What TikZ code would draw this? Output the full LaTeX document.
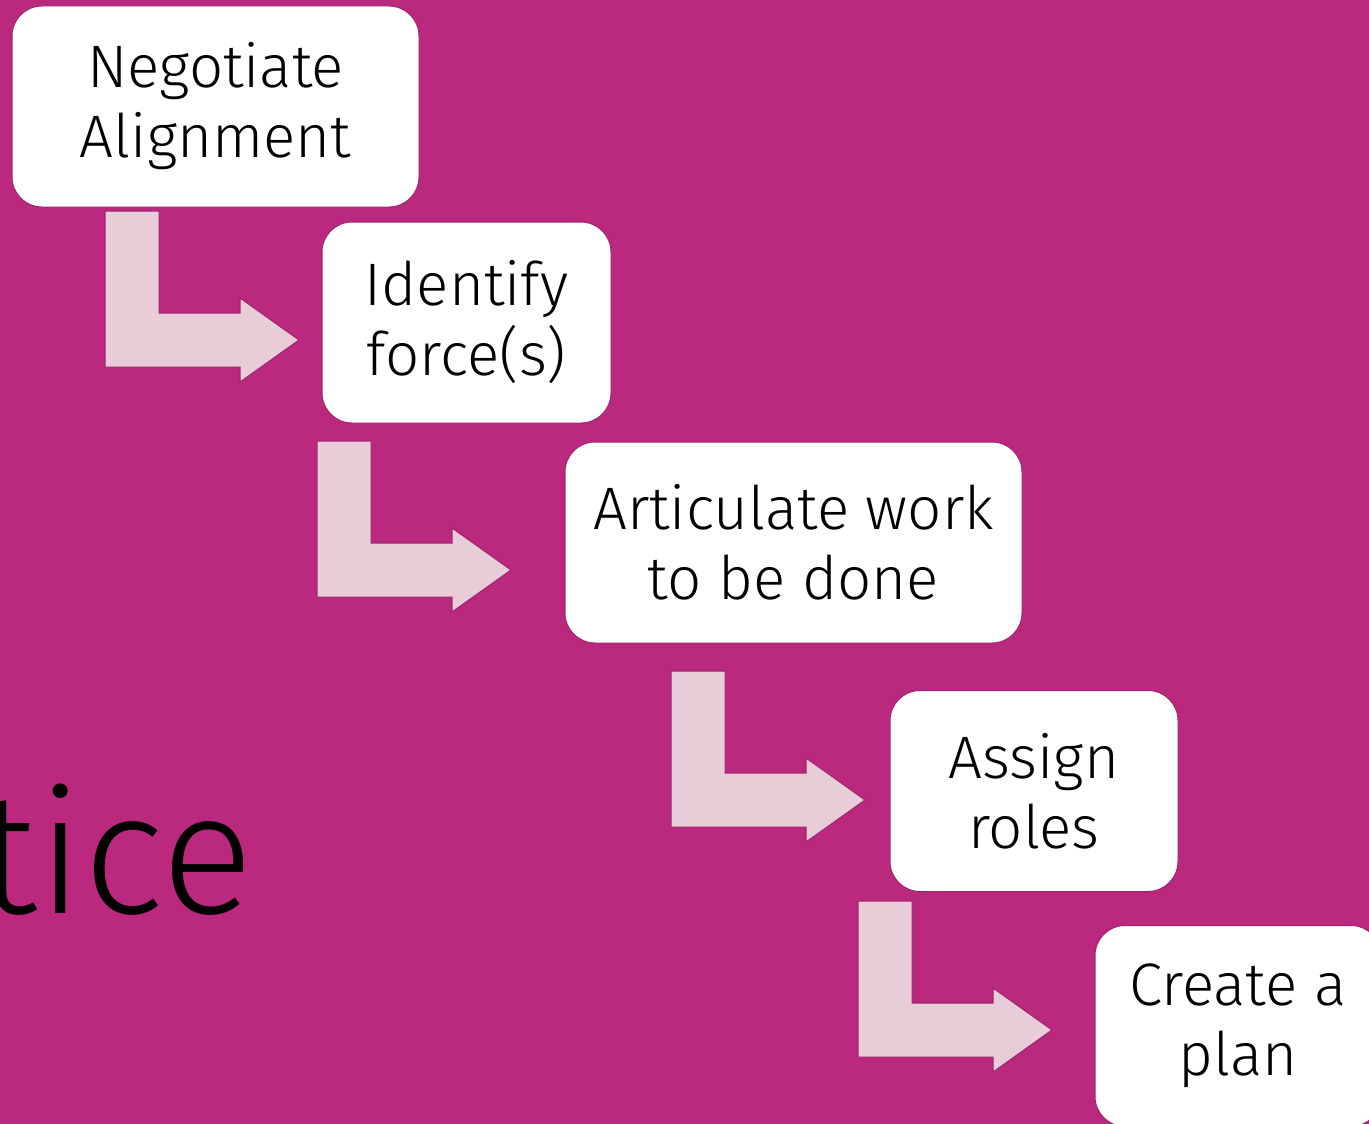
\documentclass[tikz,border=0pt]{standalone}
\usepackage{fontspec}
\setmainfont{Fira Sans Light}
\definecolor{plum}{RGB}{186,41,126}
\definecolor{blush}{RGB}{232,204,216}

\begin{document}
\begin{tikzpicture}[x=1pt, y=-1pt,
    stepbox/.style={fill=white, draw=plum!85!black, line width=1pt,
      rounded corners=30pt, minimum height=201pt, inner sep=0pt,
      align=center, font=\fontsize{60}{70}\selectfont},
    bent/.style={fill=blush, draw=plum!85!black, line width=1pt}]

    % Sfondo e cornice
    \useasboundingbox (0,0) rectangle (1369,1124);
    \fill[plum] (0,0) rectangle (1369,1124);

    % Titolo tagliato a sinistra
    \node[anchor=base east, inner sep=0pt, font=\fontsize{172}{172}\selectfont]
        (title) at (254,913) {tice};

    % Frecce a gomito tra un passo e il successivo
    \foreach \x/\y in {105/211, 317/441, 671/671, 858/901}
        \draw[bent] (\x,\y) -- ++(54,0) -- ++(0,102) -- ++(81,0) -- ++(0,-15)
            -- ++(59,42) -- ++(-59,42) -- ++(0,-15) -- ++(-135,0) -- cycle;

    % Passi
    \node[stepbox, minimum width=407pt] (negotiate) at (215.5,106.5) {Negotiate\\Alignment};
    \node[stepbox, minimum width=289pt] (identify) at (466.5,322.5) {Identify\\force(s)};
    \node[stepbox, minimum width=457pt] (articulate) at (793.5,542.5) {Articulate work\\to be done};
    \node[stepbox, minimum width=288pt] (assign) at (1034,791) {Assign\\roles};
    \node[stepbox, minimum width=286pt] (plan) at (1238,1026) {Create a\\plan};

\end{tikzpicture}
\end{document}
